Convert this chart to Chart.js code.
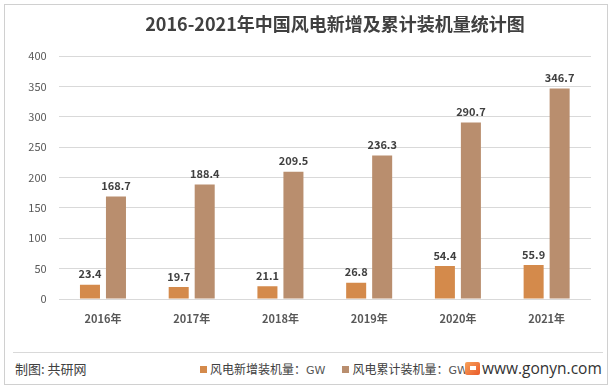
<!DOCTYPE html>
<html><head><meta charset="utf-8">
<script src="https://cdn.jsdelivr.net/npm/chart.js@4/dist/chart.umd.min.js"></script>
<style>
html,body{margin:0;padding:0;background:#fff;}
#wrap{position:relative;width:614px;height:390px;overflow:hidden;font-family:"Noto Sans CJK SC","Noto Sans",sans-serif;}
#frame{position:absolute;left:4px;top:4px;width:604px;height:381px;border:1px solid #d0d0d0;box-sizing:border-box;}
#title{position:absolute;left:0;width:670px;top:11px;text-align:center;font-size:18px;font-weight:bold;color:#404040;line-height:24px;}
#cv{position:absolute;left:0;top:0;}
#line{position:absolute;left:13px;top:352px;width:590px;height:1px;background:#d9d9d9;}
#src{position:absolute;left:15px;top:359px;font-size:13px;color:#404040;}
#legend{position:absolute;left:200px;top:360px;font-size:12px;color:#404040;white-space:nowrap;}
#legend span.it{margin-right:17px;}
#legend i{display:inline-block;width:7px;height:7px;margin-right:3px;vertical-align:1px;}
#legend b{font-weight:normal;font-family:"DejaVu Sans",sans-serif;font-size:11px;color:#555;}
#site{position:absolute;left:482px;top:357px;font-size:15.5px;color:#333;font-family:"Open Sans","DejaVu Sans",sans-serif;}
#logo{position:absolute;left:465px;top:362px;width:15px;height:13px;background:linear-gradient(135deg,#f7a25a,#ea5a2a);border-radius:2px;}
#logo:after{content:"";position:absolute;left:5px;top:4px;width:6px;height:4px;background:#fff;}
</style></head>
<body>
<div id="wrap">
<div id="frame"></div>
<canvas id="cv" width="614" height="345"></canvas>
<div id="title">2016-2021年中国风电新增及累计装机量统计图</div>
<div id="line"></div>
<div id="src">制图: 共研网</div>
<div id="legend"></div>
<div id="logo"></div>
<div id="site">www.gonyn.com</div>
</div>
<script>
const categories = ["2016年","2017年","2018年","2019年","2020年","2021年"];
const newInstalled = [23.4, 19.7, 21.1, 26.8, 54.4, 55.9];
const cumulative = [168.7, 188.4, 209.5, 236.3, 290.7, 346.7];
const yTicks = [0, 50, 100, 150, 200, 250, 300, 350, 400];
const seriesNames = ["风电新增装机量：", "风电累计装机量："];
const unit = "GW";
const colors = ["#D48A4B", "#B98E6E"];

const labelPlugin = {
  id: 'barLabels',
  afterDatasetsDraw(chart) {
    const ctx = chart.ctx;
    ctx.save();
    ctx.font = 'bold 11px "Noto Sans CJK SC","Noto Sans",sans-serif';
    ctx.fillStyle = '#404040';
    ctx.textAlign = 'center';
    ctx.textBaseline = 'bottom';
    chart.data.datasets.forEach((ds, i) => {
      chart.getDatasetMeta(i).data.forEach((bar, j) => {
        ctx.fillText(ds.data[j].toFixed(1), bar.x, bar.y - 5);
      });
    });
    ctx.restore();
  }
};

const chart = new Chart(document.getElementById('cv'), {
  type: 'bar',
  data: {
    labels: categories,
    datasets: [
      {label: seriesNames[0] + unit, data: newInstalled, backgroundColor: colors[0]},
      {label: seriesNames[1] + unit, data: cumulative, backgroundColor: colors[1]}
    ]
  },
  options: {
    responsive: false,
    animation: false,
    devicePixelRatio: 1,
    layout: {padding: {top: 56, right: 23, left: 0, bottom: 0}},
    categoryPercentage: 0.586,
    barPercentage: 0.77,
    plugins: {legend: {display: false}, tooltip: {enabled: false}, title: {display: false}},
    scales: {
      x: {
        grid: {display: false},
        border: {display: false},
        ticks: {padding: 5, color: '#595959', font: {size: 11, weight: 'bold', family: '"Noto Sans CJK SC","Noto Sans",sans-serif'}},
        afterFit(s) { s.height = 46; }
      },
      y: {
        min: 0, max: 400,
        afterBuildTicks(s) { s.ticks = yTicks.map(v => ({value: v})); },
        grid: {color: '#d9d9d9', drawTicks: false},
        border: {display: false},
        ticks: {padding: 12, color: '#595959', font: {size: 11, family: '"Noto Sans CJK SC","Noto Sans",sans-serif'}},
        afterFit(s) { s.width = 58.6; }
      }
    }
  },
  plugins: [labelPlugin]
});

const lg = document.getElementById('legend');
chart.data.datasets.forEach((ds, i) => {
  const s = document.createElement('span');
  s.className = 'it';
  s.innerHTML = '<i style="background:' + colors[i] + '"></i>' + seriesNames[i] + '<b>' + unit + '</b>';
  lg.appendChild(s);
});
</script>
</body></html>
